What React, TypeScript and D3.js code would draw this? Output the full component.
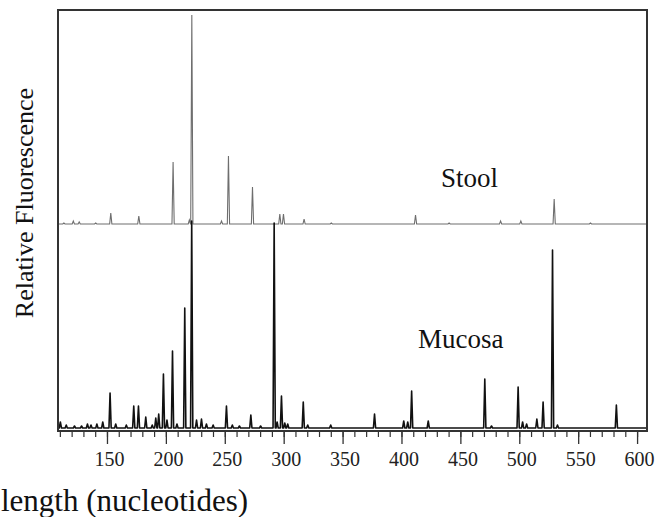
import React from "react";
import * as d3 from "d3";

// Fragment positions (nucleotides) and peak heights (relative fluorescence units)
const mucosaPos = [110, 115, 122, 128, 133, 136, 141, 146, 152.2, 157, 166, 172.3, 176.3, 182.5, 188, 191, 193.5, 197.5, 200.5, 205.2, 209, 215.6, 221.5, 225.6, 229.8, 234, 239.7, 251, 256, 262, 271.7, 280, 291.5, 294, 297.7, 300.5, 303, 316.2, 320, 339.5, 376.7, 401.5, 404.9, 408.2, 422.3, 470.3, 476, 498.6, 502.4, 505.8, 514.5, 519.8, 527.8, 532, 582];
const mucosaHeight = [6, 3, 2, 2, 4, 3, 4, 6, 35, 4, 3, 22, 22, 11, 3, 10, 14, 54, 8, 77, 4, 120, 207, 8, 9, 4, 3, 22, 3, 2, 13, 2, 205, 6, 32, 5, 4, 26, 3, 3, 14, 7, 6, 37, 7, 49, 2, 41, 6, 4, 9, 26, 178, 3, 23];

const stoolPos = [113, 121, 126, 140, 152.8, 176.6, 205.7, 219.5, 221.6, 246.8, 252.7, 273.1, 296.3, 299.4, 316.9, 340, 411.5, 440, 483.7, 500.9, 529.2, 560];
const stoolHeight = [1, 3, 2, 1, 11, 8, 62, 4, 209, 3, 68, 37, 10, 10, 5, 1, 9, 1, 3, 3, 25, 1];

const majorTicks = [150, 200, 250, 300, 350, 400, 450, 500, 550, 600];
const minorTicks = d3.range(110, 601, 10);

const xDomain = [108, 608];
const yDomain = [0, 421];

const W = 656, H = 517;
const L = 58, R = 647, T = 10, B = 431;

function buildTrace(pos: number[], hts: number[], offset: number) {
  const hw = 0.95;
  const pts: [number, number][] = [[xDomain[0], offset]];
  pos.forEach((p, i) => {
    pts.push([p - hw, offset]);
    pts.push([p, offset + hts[i]]);
    pts.push([p + hw, offset]);
  });
  pts.push([xDomain[1], offset]);
  pts.sort((a, b) => a[0] - b[0]);
  return pts;
}

const FONT = "Liberation Serif, Times New Roman, DejaVu Serif, serif";

export default function App() {
  const x = d3.scaleLinear().domain(xDomain).range([L, R]);
  const y = d3.scaleLinear().domain(yDomain).range([B, T]);
  const line = d3.line<[number, number]>().x(d => x(d[0])).y(d => y(d[1]));
  const mucosa = buildTrace(mucosaPos, mucosaHeight, 3);
  const stool = buildTrace(stoolPos, stoolHeight, 207);
  const ts = { fontFamily: FONT };
  return (
    <svg width={W} height={H} style={{ position: "absolute", left: 0, top: 0, background: "#fff", fontFamily: FONT }}>
      <path d={line(stool) || ""} fill="none" stroke="#6e6e6e" strokeWidth={1.1} />
      <path d={line(mucosa) || ""} fill="none" stroke="#111" strokeWidth={1.6} strokeLinejoin="round" />
      <rect x={L} y={T} width={R - L} height={B - T} fill="none" stroke="#333" strokeWidth={2} />
      {minorTicks.map(t => (
        <line key={"m" + t} x1={x(t)} x2={x(t)} y1={B} y2={B + 6} stroke="#333" strokeWidth={1.2} />
      ))}
      {majorTicks.map(t => (
        <g key={"M" + t}>
          <line x1={x(t)} x2={x(t)} y1={B} y2={B + 13} stroke="#333" strokeWidth={1.3} />
          <text x={x(t) + 2} y={466} fontSize={20} textAnchor="middle" fill="#222" style={ts}>{t}</text>
        </g>
      ))}
      <text x={441} y={187} fontSize={27} fill="#111" style={ts}>Stool</text>
      <text x={418} y={348} fontSize={27} fill="#111" style={ts}>Mucosa</text>
      <text transform="translate(33,203) rotate(-90)" fontSize={26} textAnchor="middle" fill="#111" style={ts}>Relative Fluorescence</text>
      <text x={1} y={511} fontSize={31} fill="#111" style={ts}>length (nucleotides)</text>
    </svg>
  );
}
